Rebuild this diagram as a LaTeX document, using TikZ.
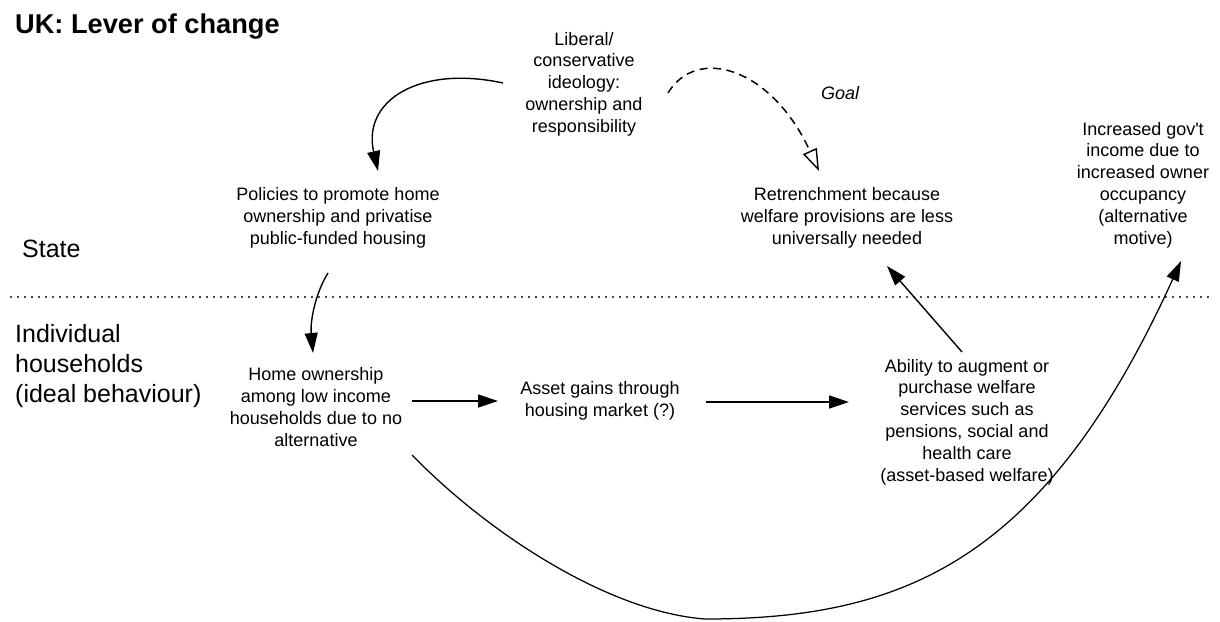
\documentclass[tikz,border=0pt]{standalone}
\usepackage{fontspec}
\setmainfont{Liberation Sans}
\usetikzlibrary{arrows.meta,calc}
\begin{document}
\begin{tikzpicture}[x=1pt,y=-1pt,
  txt/.style={align=center,inner sep=0pt,font=\fontsize{18}{21.8}\selectfont},
  lane/.style={align=left,inner sep=0pt,anchor=west,font=\fontsize{25}{30}\selectfont},
  conn/.style={line width=1.4pt,-{Triangle[length=20pt,width=13pt]}},
  goalconn/.style={line width=1.5pt,dash pattern=on 8pt off 5.5pt,-{Triangle[open,length=22pt,width=15pt,line width=1.4pt]}},
  sep/.style={line width=1.8pt,dash pattern=on 1.8pt off 5.2pt,black!70}]
\useasboundingbox (0,0) rectangle (1220,621);
\fill[white] (0,0) rectangle (1220,621);
% title and lanes
\node[anchor=base west,inner sep=0pt,font=\fontsize{27.2}{30}\selectfont\bfseries] (title) at (15,33) {UK: Lever of change};
\node[lane] (state) at (22,249) {State};
\node[lane] (indiv) at (15,366) {Individual\\households\\(ideal behaviour)};
\coordinate (sepL) at (10,297);
\coordinate (sepR) at (1212,297);
\draw[sep] (sepL) -- (sepR);
% nodes
\node[txt] (lib) at (584,84) {Liberal/\\conservative\\ideology:\\ownership and\\responsibility};
\node[txt,font=\fontsize{18}{21.8}\selectfont\itshape] (goal) at (840,93) {Goal};
\node[txt] (pol) at (338,218) {Policies to promote home\\ownership and privatise\\public-funded housing};
\node[txt] (ret) at (847,218) {Retrenchment because\\welfare provisions are less\\universally needed};
\node[txt] (gov) at (1143,185) {Increased gov\textquotesingle t\\income due to\\increased owner\\occupancy\\(alternative\\motive)};
\node[txt] (home) at (316,407) {Home ownership\\among low income\\households due to no\\alternative};
\node[txt] (asset) at (600,401) {Asset gains through\\housing market (?)};
\node[txt] (abil) at (967,422) {Ability to augment or\\purchase welfare\\services such as\\pensions, social and\\health care\\(asset-based welfare)};
% connectors
\draw[conn] ($(lib)+(-81,-1)$) .. controls (420,65) and (362,100) .. ($(pol)+(40,-47)$);
\draw[goalconn] ($(lib)+(84,9)$) .. controls (697,45) and (772,68) .. ($(ret)+(-28,-47)$);
\draw[conn] ($(pol)+(-10,55)$) .. controls (316,292) and (310,320) .. ($(home)+(-3,-54)$);
\draw[conn] ($(home)+(96,-6)$) -- ($(asset)+(-102,0)$);
\draw[conn] ($(asset)+(106,1)$) -- ($(abil)+(-118,-20)$);
\draw[conn] ($(abil)+(-5,-70)$) -- ($(ret)+(40,48)$);
\draw[conn,line width=1.25pt] ($(home)+(96,48)$) .. controls (490,535) and (610,612) .. (705,619)
  .. controls (905,619) and (1045,560) .. ($(gov)+(38,76)$);
\end{tikzpicture}
\end{document}
